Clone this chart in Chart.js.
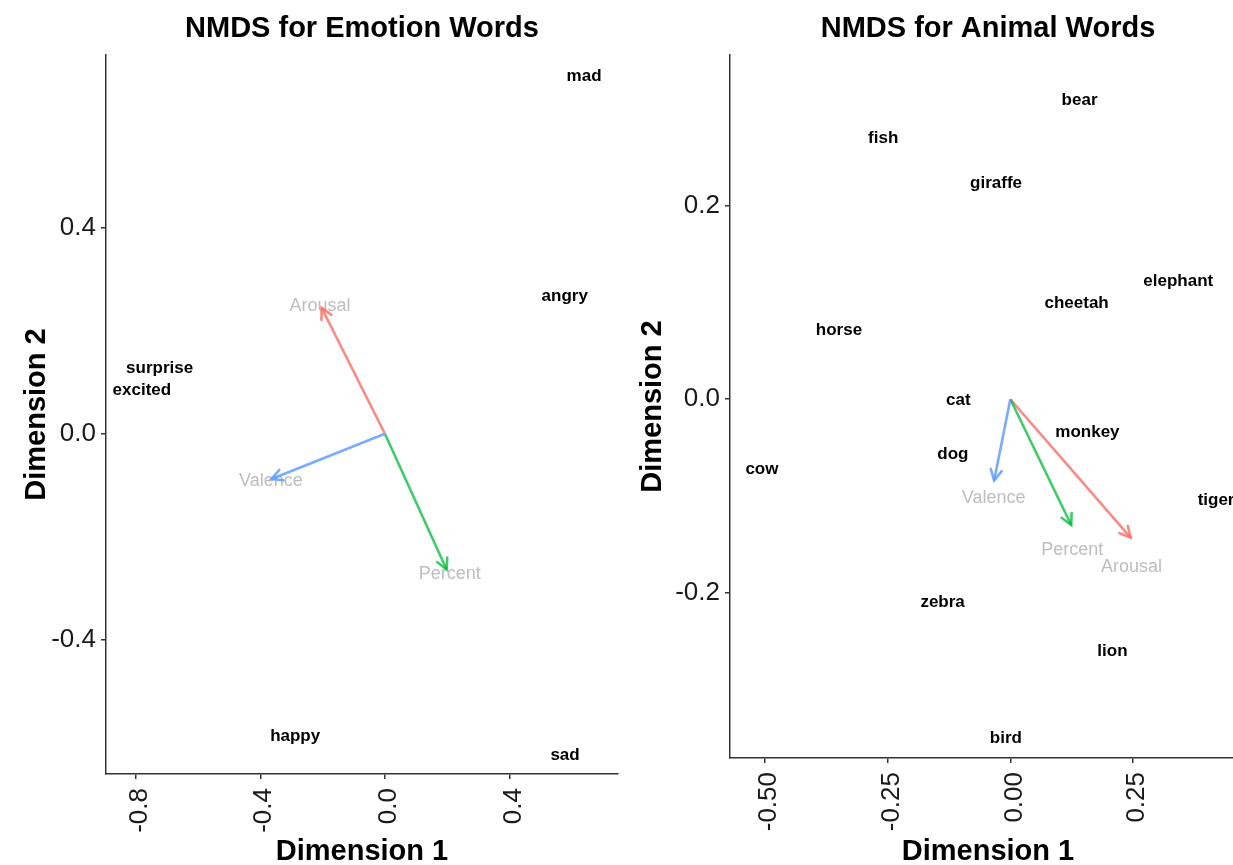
<!DOCTYPE html>
<html>
<head>
<meta charset="utf-8">
<title>NMDS word maps</title>
<script src="https://cdn.jsdelivr.net/npm/chart.js@4.4.1/dist/chart.umd.min.js"></script>
<style>
  html, body { margin: 0; padding: 0; background: #fff; overflow: hidden; }
  .panel { position: absolute; top: 0; }
</style>
</head>
<body>
<div class="panel" style="left:0"><canvas id="emotion-chart" width="640" height="865"></canvas></div>
<div class="panel" style="left:620px"><canvas id="animal-chart" width="626" height="865"></canvas></div>
<script>
// Emotion words: NMDS coordinates
const emotionWords = ["mad", "angry", "surprise", "excited", "happy", "sad"];
const emotionDim1 = [0.639, 0.577, -0.723, -0.780, -0.288, 0.578];
const emotionDim2 = [0.696, 0.267, 0.128, 0.084, -0.589, -0.625];

// Emotion vectors (fitted rating arrows) and where their names sit
const emotionVectors = ["Arousal", "Valence", "Percent"];
const emotionVecDim1 = [-0.203, -0.364, 0.198];
const emotionVecDim2 = [0.245, -0.088, -0.264];
const emotionVecLabelDim1 = [-0.208, -0.366, 0.208];
const emotionVecLabelDim2 = [0.249, -0.092, -0.273];

const emotionXTicks = [-0.8, -0.4, 0, 0.4];
const emotionXTickLabels = ["-0.8", "-0.4", "0.0", "0.4"];
const emotionYTicks = [-0.4, 0, 0.4];
const emotionYTickLabels = ["-0.4", "0.0", "0.4"];

// Animal words: NMDS coordinates
const animalWords = ["bear", "fish", "giraffe", "elephant", "cheetah", "horse", "cat",
  "monkey", "dog", "cow", "tiger", "zebra", "lion", "bird"];
const animalDim1 = [0.141, -0.259, -0.029, 0.342, 0.135, -0.349, -0.106,
  0.157, -0.117, -0.506, 0.419, -0.138, 0.208, -0.009];
const animalDim2 = [0.309, 0.270, 0.223, 0.122, 0.099, 0.071, -0.001,
  -0.034, -0.057, -0.072, -0.104, -0.210, -0.261, -0.351];

const animalVectors = ["Valence", "Percent", "Arousal"];
const animalVecDim1 = [-0.033, 0.124, 0.245];
const animalVecDim2 = [-0.084, -0.130, -0.143];
const animalVecLabelDim1 = [-0.034, 0.126, 0.247];
const animalVecLabelDim2 = [-0.102, -0.156, -0.173];

const animalXTicks = [-0.5, -0.25, 0, 0.25];
const animalXTickLabels = ["-0.50", "-0.25", "0.00", "0.25"];
const animalYTicks = [-0.2, 0, 0.2];
const animalYTickLabels = ["-0.2", "0.0", "0.2"];

// ggplot default hues for the three rating variables
const vectorColors = {
  Arousal: "rgba(248, 118, 109, 0.85)",
  Percent: "rgba(0, 186, 56, 0.75)",
  Valence: "rgba(97, 156, 255, 0.85)",
};

Chart.defaults.font.family = '"Liberation Sans", Arial, Helvetica, sans-serif';
Chart.defaults.color = "#1a1a1a";

// Draws word names, vector names and open arrow heads
const textLayer = {
  id: "textLayer",
  beforeDatasetsDraw(chart) {
    const ctx = chart.ctx;
    chart.data.datasets.forEach((ds, i) => {
      if (ds.role !== "vectorNames") return;
      const meta = chart.getDatasetMeta(i);
      ctx.save();
      ctx.font = '18px "Liberation Sans", Arial, sans-serif';
      ctx.fillStyle = "#bdbdbd";
      ctx.textAlign = "center";
      ctx.textBaseline = "middle";
      meta.data.forEach((pt, j) => ctx.fillText(ds.names[j], pt.x, pt.y));
      ctx.restore();
    });
  },
  afterDatasetsDraw(chart) {
    const ctx = chart.ctx;
    chart.data.datasets.forEach((ds, i) => {
      const meta = chart.getDatasetMeta(i);
      if (ds.role === "arrow") {
        const from = meta.data[0];
        const to = meta.data[1];
        const angle = Math.atan2(to.y - from.y, to.x - from.x);
        const len = 12;
        const spread = Math.PI / 6.5;
        ctx.save();
        ctx.strokeStyle = ds.borderColor;
        ctx.lineWidth = ds.borderWidth;
        ctx.lineCap = "round";
        ctx.beginPath();
        ctx.moveTo(to.x - len * Math.cos(angle - spread), to.y - len * Math.sin(angle - spread));
        ctx.lineTo(to.x, to.y);
        ctx.lineTo(to.x - len * Math.cos(angle + spread), to.y - len * Math.sin(angle + spread));
        ctx.stroke();
        ctx.restore();
      }
      if (ds.role === "words") {
        ctx.save();
        ctx.font = 'bold 17px "Liberation Sans", Arial, sans-serif';
        ctx.fillStyle = "#000";
        ctx.textAlign = "center";
        ctx.textBaseline = "middle";
        meta.data.forEach((pt, j) => ctx.fillText(ds.names[j], pt.x, pt.y));
        ctx.restore();
      }
    });
  },
};

function toPoints(xs, ys) {
  return xs.map((x, i) => ({ x: x, y: ys[i] }));
}

function buildChart(canvasId, opts) {
  const datasets = [
    {
      role: "words",
      names: opts.words,
      data: toPoints(opts.dim1, opts.dim2),
      pointRadius: 0,
    },
    {
      role: "vectorNames",
      names: opts.vectors,
      data: toPoints(opts.vecLabelDim1, opts.vecLabelDim2),
      pointRadius: 0,
    },
  ];
  opts.vectors.forEach((name, i) => {
    datasets.push({
      type: "line",
      role: "arrow",
      data: [{ x: 0, y: 0 }, { x: opts.vecDim1[i], y: opts.vecDim2[i] }],
      borderColor: vectorColors[name],
      borderWidth: 2.6,
      pointRadius: 0,
      fill: false,
    });
  });

  const axisLine = { color: "#333", width: 1.5 };
  const tickGrid = { drawOnChartArea: false, drawTicks: true, tickLength: 5, color: "#333", lineWidth: 1.5 };

  return new Chart(document.getElementById(canvasId), {
    type: "scatter",
    data: { datasets: datasets },
    options: {
      responsive: false,
      animation: false,
      layout: { padding: { left: 0, right: opts.rightPad, top: 0, bottom: 0 } },
      plugins: {
        legend: { display: false },
        tooltip: { enabled: false },
        title: {
          display: true,
          text: opts.title,
          fullSize: false,
          color: "#000",
          font: { size: 29, weight: "bold", lineHeight: 1 },
          padding: { top: 14, bottom: 12 },
        },
      },
      scales: {
        x: {
          type: "linear",
          min: opts.xMin,
          max: opts.xMax,
          afterBuildTicks: (scale) => {
            scale.ticks = opts.xTicks.map((v) => ({ value: v }));
          },
          afterFit: (scale) => {
            scale.height = opts.xAxisHeight;
          },
          ticks: {
            callback: (value, index) => opts.xTickLabels[index],
            minRotation: 90,
            maxRotation: 90,
            labelOffset: 4,
            padding: 9,
            color: "#1a1a1a",
            font: { size: 26 },
          },
          grid: tickGrid,
          border: axisLine,
          title: {
            display: true,
            text: "Dimension 1",
            color: "#000",
            font: { size: 29, weight: "bold", lineHeight: 0.9 },
            padding: 0,
          },
        },
        y: {
          type: "linear",
          min: opts.yMin,
          max: opts.yMax,
          afterBuildTicks: (scale) => {
            scale.ticks = opts.yTicks.map((v) => ({ value: v }));
          },
          afterFit: (scale) => {
            scale.width = opts.yAxisWidth;
          },
          ticks: {
            callback: (value, index) => opts.yTickLabels[index],
            padding: 5,
            color: "#1a1a1a",
            font: { size: 26 },
          },
          grid: tickGrid,
          border: axisLine,
          title: {
            display: true,
            text: "Dimension 2",
            color: "#000",
            font: { size: 29, weight: "bold", lineHeight: 0.9 },
            padding: { top: opts.yTitlePad, bottom: 0 },
          },
        },
      },
    },
    plugins: [textLayer],
  });
}

buildChart("emotion-chart", {
  title: "NMDS for Emotion Words",
  words: emotionWords,
  dim1: emotionDim1,
  dim2: emotionDim2,
  vectors: emotionVectors,
  vecDim1: emotionVecDim1,
  vecDim2: emotionVecDim2,
  vecLabelDim1: emotionVecLabelDim1,
  vecLabelDim2: emotionVecLabelDim2,
  xTicks: emotionXTicks,
  xTickLabels: emotionXTickLabels,
  yTicks: emotionYTicks,
  yTickLabels: emotionYTickLabels,
  xMin: -0.895,
  xMax: 0.748,
  yMin: -0.662,
  yMax: 0.737,
  rightPad: 22,
  xAxisHeight: 91,
  yAxisWidth: 106,
  yTitlePad: 24,
});

buildChart("animal-chart", {
  title: "NMDS for Animal Words",
  words: animalWords,
  dim1: animalDim1,
  dim2: animalDim2,
  vectors: animalVectors,
  vecDim1: animalVecDim1,
  vecDim2: animalVecDim2,
  vecLabelDim1: animalVecLabelDim1,
  vecLabelDim2: animalVecLabelDim2,
  xTicks: animalXTicks,
  xTickLabels: animalXTickLabels,
  yTicks: animalYTicks,
  yTickLabels: animalYTickLabels,
  xMin: -0.571,
  xMax: 0.48,
  yMin: -0.371,
  yMax: 0.356,
  rightPad: 0,
  xAxisHeight: 107,
  yAxisWidth: 110,
  yTitlePad: 20,
});
</script>
</body>
</html>
